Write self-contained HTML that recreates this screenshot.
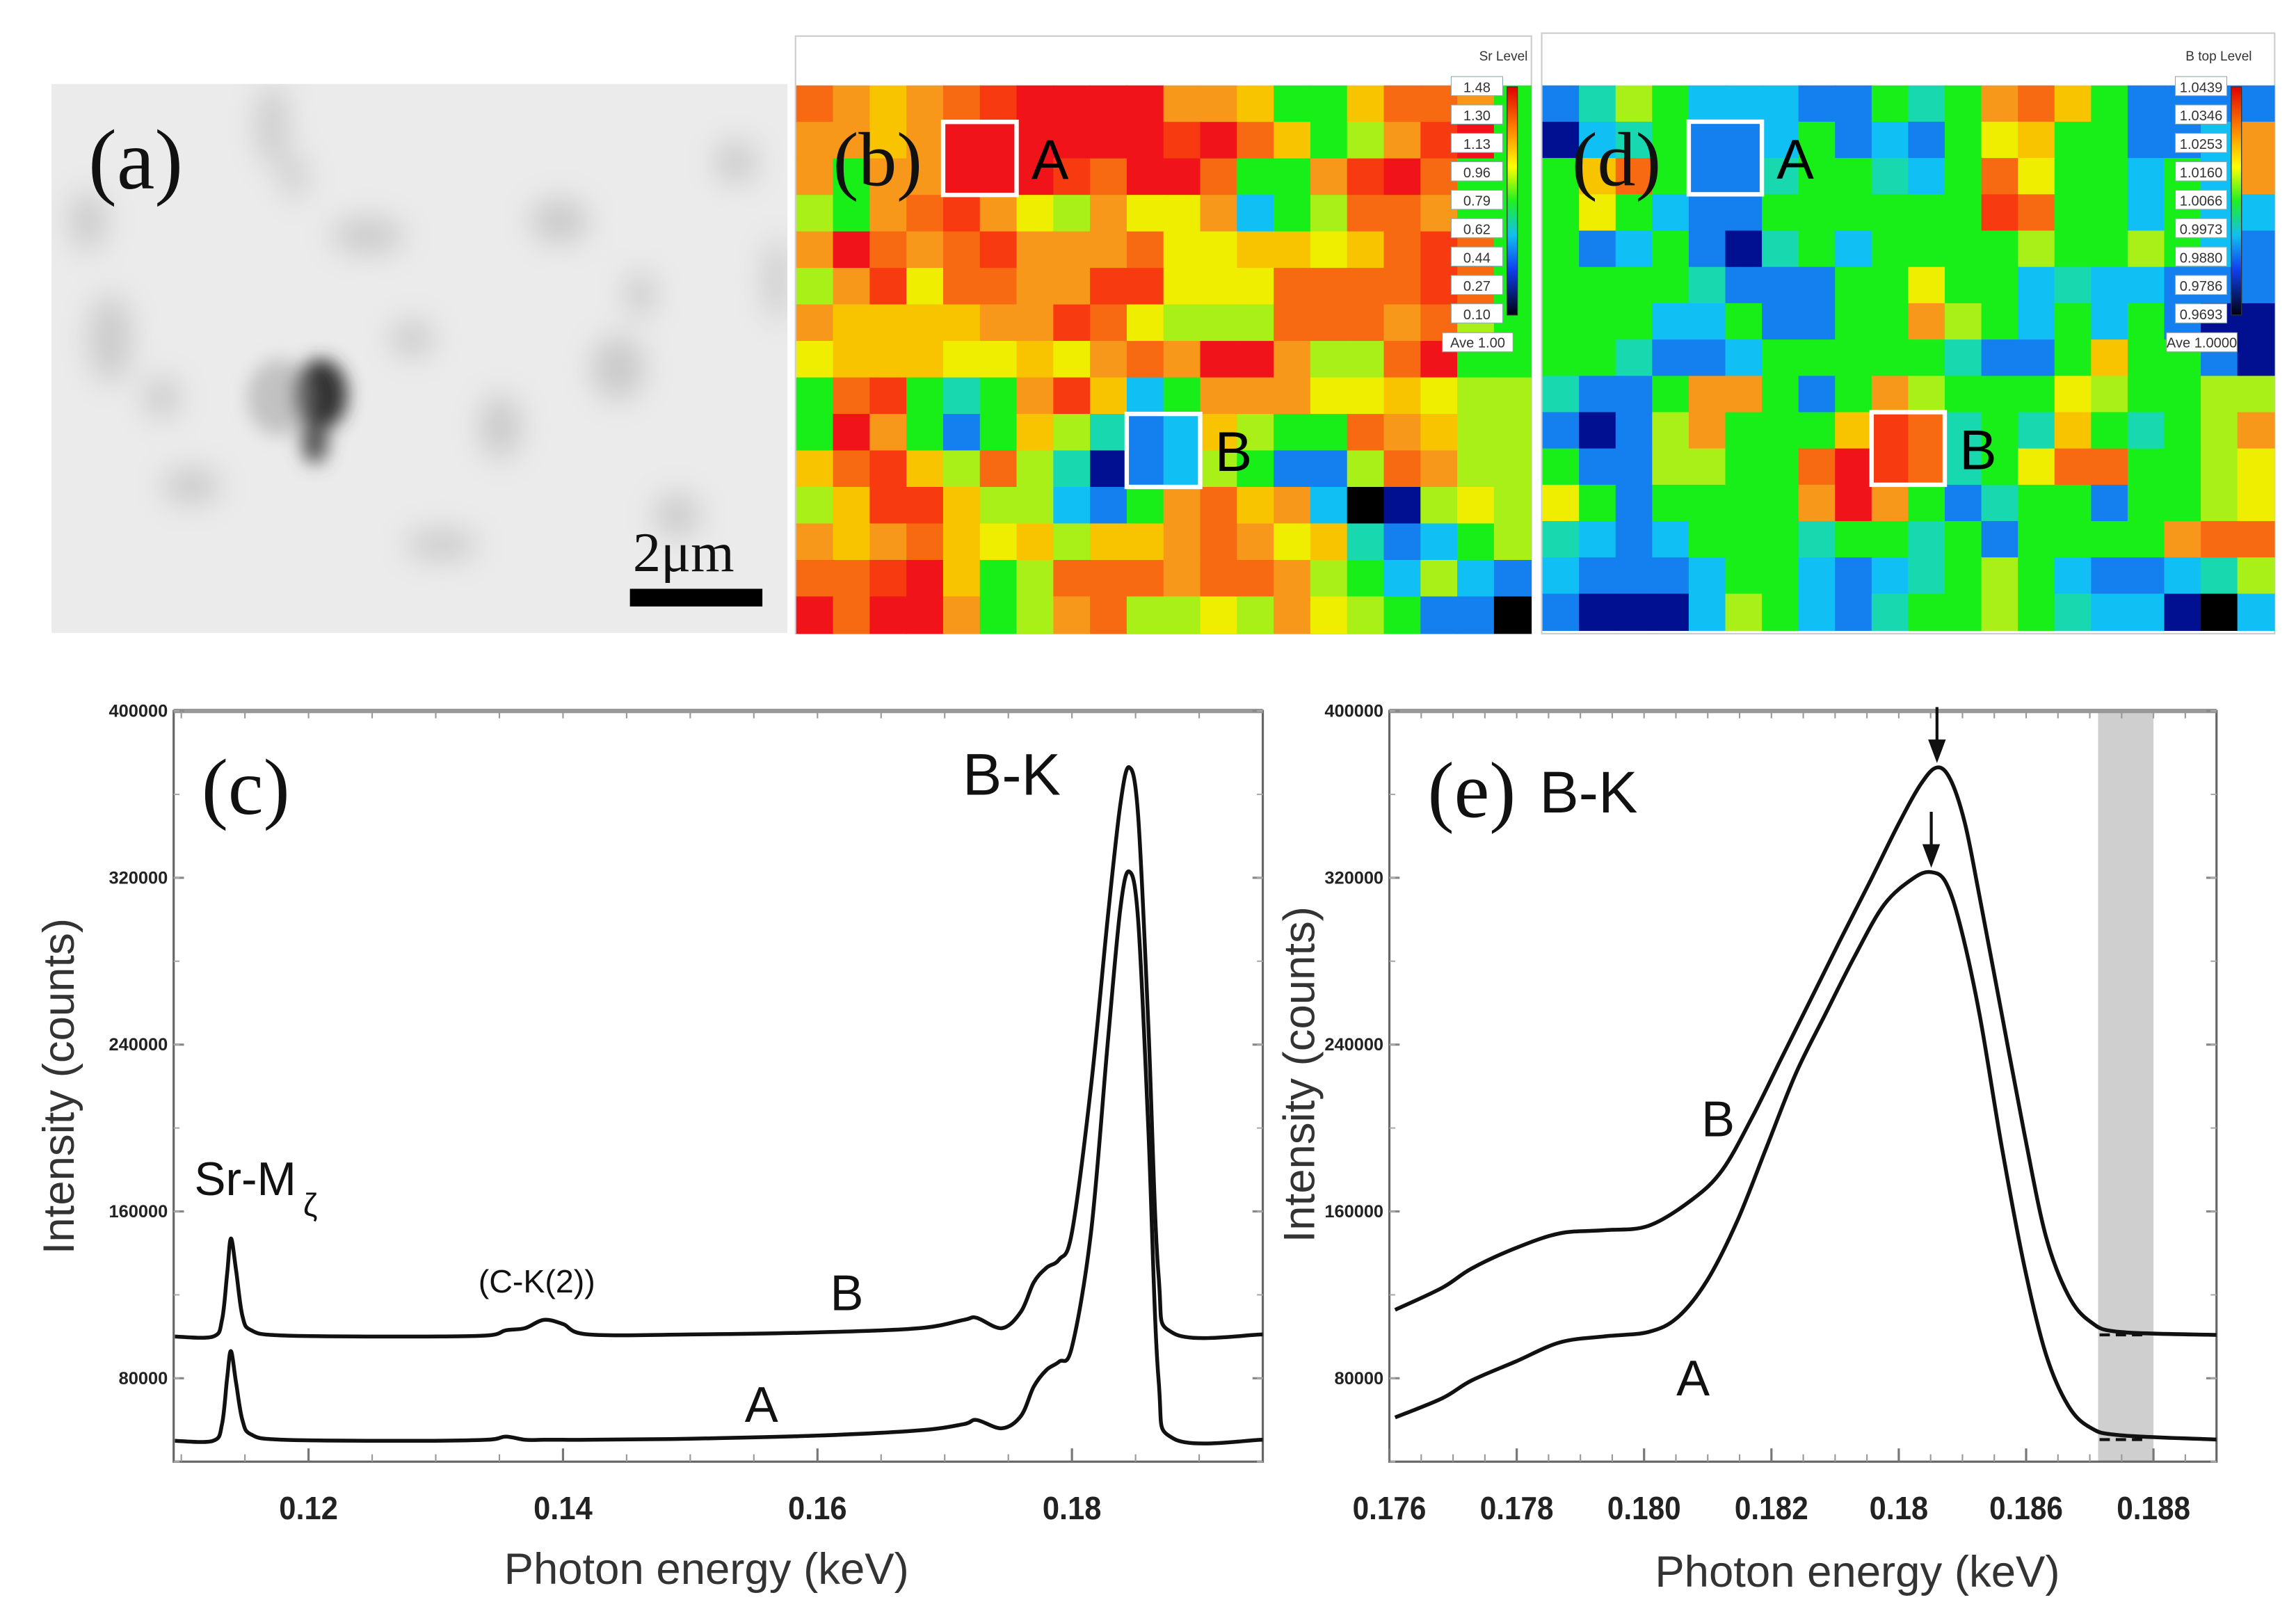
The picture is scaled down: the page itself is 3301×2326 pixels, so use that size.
<!DOCTYPE html>
<html><head><meta charset="utf-8">
<style>
html,body{margin:0;padding:0;background:#fff;}
svg{display:block;}
text{font-family:"Liberation Sans",sans-serif;}
.serif{font-family:"Liberation Serif",serif;}
</style></head>
<body>
<svg id="fig" width="3301" height="2326" viewBox="0 0 1560 1099.2" xmlns="http://www.w3.org/2000/svg">
<defs>
<filter id="blur6" x="-50%" y="-50%" width="200%" height="200%"><feGaussianBlur stdDeviation="6"/></filter>
<filter id="blur12" x="-50%" y="-50%" width="200%" height="200%"><feGaussianBlur stdDeviation="10"/></filter>
<linearGradient id="cbar" x1="0" y1="0" x2="0" y2="1">
<stop offset="0" stop-color="#e00000"/><stop offset="0.2" stop-color="#ff9000"/><stop offset="0.35" stop-color="#ffff00"/><stop offset="0.5" stop-color="#20f020"/><stop offset="0.65" stop-color="#10c0f0"/><stop offset="0.8" stop-color="#1040f0"/><stop offset="1" stop-color="#000010"/></linearGradient>
<clipPath id="clipA"><rect x="35" y="57" width="500" height="373"/></clipPath>
<clipPath id="clipE"><rect x="944" y="483" width="562" height="510"/></clipPath>
</defs>

<!-- Panel (a) -->
<g clip-path="url(#clipA)">
<rect x="35" y="57" width="500" height="373" fill="#ebebeb"/>
<g filter="url(#blur12)" fill="#a0a0a0" opacity="0.45">
<ellipse cx="185" cy="85" rx="10" ry="28"/><ellipse cx="200" cy="120" rx="8" ry="15"/>
<ellipse cx="75" cy="230" rx="14" ry="30"/><ellipse cx="60" cy="150" rx="12" ry="20"/>
<ellipse cx="420" cy="250" rx="18" ry="22"/><ellipse cx="435" cy="200" rx="10" ry="15"/>
<ellipse cx="340" cy="290" rx="14" ry="22"/><ellipse cx="250" cy="160" rx="25" ry="12"/>
<ellipse cx="500" cy="110" rx="14" ry="14"/><ellipse cx="528" cy="190" rx="8" ry="28"/>
<ellipse cx="130" cy="330" rx="20" ry="12"/><ellipse cx="300" cy="370" rx="25" ry="10"/>
<ellipse cx="460" cy="350" rx="15" ry="15"/><ellipse cx="380" cy="150" rx="20" ry="15"/>
<ellipse cx="110" cy="270" rx="12" ry="14"/><ellipse cx="280" cy="230" rx="15" ry="12"/>
</g>
<g filter="url(#blur6)">
<ellipse cx="218" cy="268" rx="18" ry="24" fill="#333"/>
<ellipse cx="214" cy="300" rx="9" ry="15" fill="#555"/>
<ellipse cx="190" cy="270" rx="22" ry="26" fill="#999" opacity="0.5"/>
</g>
</g>
<text class="serif" x="60" y="128" font-size="58" fill="#111">(a)</text>
<text class="serif" x="430" y="388" font-size="38" fill="#111">2μm</text>
<rect x="428" y="400" width="90" height="12" fill="#000"/>

<rect x="540.5" y="24.5" width="500" height="406" fill="#fff" stroke="#ccc"/>
<g id="mapB"></g>
<rect x="1047.5" y="22.5" width="498" height="408" fill="#fff" stroke="#ccc"/>
<g id="mapD"></g>

<g id="chartC"></g>
<g id="chartE"></g>
</svg>

<script>
// ---------- heatmap data ----------
const mapBRows = [
"OoYoOrRRRRooYGGYOOoG",
"ooYoRRRRRRrROYGlorRG",
"oGooRRRrORROGGorROGG",
"lGoOroyloyyoCGlOOoGG",
"oROoOroooOyyYYyYOrOG",
"loryOOoorryyyOOOOrOG",
"oYYYYoorOylllOOOoOlG",
"yYYYyyYyoOoRRollORGG",
"GOrGtGorYCGoooyyYyll",
"GRoGBGYltBCYlGGOoYll",
"YOrYlOltNBClGBBlOoll",
"lYrrYllCBGoOYoCKNlyl",
"oYoOYyYlYYoOoyYtBCGl",
"OOrRYGlOOOoOOolGClCB",
"RORRoGloOllyloylGBBK"];
const mapDRows = [
"BtlGCCCBBGtGoOYGBBBB",
"NCtGBBCGBCBGyYGGBBCo",
"GYOGBBtGGtCGOyGGCGCo",
"GyGCBBGGGGGGrOGGCGCC",
"GBCGBNtGCGGGGlGGlGCB",
"GGGGtBBBGGyGGCtCCBBB",
"GGGCCGBBGGolGCGCGBNN",
"GGtBBCGGGGGtBBGYGGBN",
"tBBGooGBGolGGGylGGll",
"BNBloGGGYrOtGtYGtGlo",
"GBBllGGORrOtGyOOGGly",
"yGBGGGGoRoGBtGGBGGly",
"tCBCGGGtGGtGBGGGGoOO",
"CBBBCGGCBCtGlGCBBCtl",
"BNNNClGCBtGGlGtCCNKC"];
const colorKey = {R:"#f0141a",r:"#f83a10",O:"#f86a12",o:"#f8981a",Y:"#f8c400",y:"#f0ee00",l:"#a8f018",G:"#18ee18",t:"#18d8b0",C:"#10c0f4",B:"#1480f0",N:"#001090",K:"#000000"};
const sbLabels = ["1.48","1.30","1.13","0.96","0.79","0.62","0.44","0.27","0.10"];
const dbLabels = ["1.0439","1.0346","1.0253","1.0160","1.0066","0.9973","0.9880","0.9786","0.9693"];

// ---------- spectrum (c) data ----------
const cEnergy = [0.1095,0.1125,0.1132,0.1136,0.1139,0.1143,0.1148,0.1155,0.118,0.128,0.134,0.1355,0.137,0.1385,0.140,0.142,0.150,0.160,0.168,0.1715,0.1725,0.1745,0.176,0.177,0.178,0.179,0.1800,0.1815,0.1828,0.1838,0.1845,0.1852,0.1860,0.1868,0.1880,0.195];
const cSeriesB = [100000,100000,108000,130000,147000,132000,110000,103000,100500,100000,100500,103000,104000,108000,106000,101000,101000,102000,104000,108000,109000,104000,112000,126000,133000,137000,150000,220000,300000,355000,373000,350000,250000,130000,101500,101000];
const cSeriesA = [50000,50000,58000,80000,93000,78000,60000,53000,50500,50000,50500,52000,50500,50500,50500,50500,51000,52500,55000,58000,60000,56000,62000,76000,84000,88000,95000,150000,240000,305000,323000,300000,200000,80000,51000,50500];
const cXTicks = [0.12,0.14,0.16,0.18];
const yTicks = [80000,160000,240000,320000,400000];

// ---------- spectrum (e) data ----------
const eEnergyB = [0.17609,0.17683,0.17729,0.17799,0.17868,0.17938,0.18007,0.18076,0.18123,0.18169,0.18215,0.18261,0.18307,0.18354,0.184,0.18435,0.1846,0.18481,0.18504,0.18527,0.18562,0.18597,0.18631,0.18666,0.18701,0.18747,0.18899];
const eSeriesB = [112800,123400,132600,142500,149500,151000,153100,165800,179900,204700,233000,261200,289500,317700,346000,365100,372900,367200,346000,310700,254200,197700,148100,119900,107100,102200,100800];
const eEnergyA = [0.17609,0.17683,0.17729,0.17799,0.17868,0.17938,0.18007,0.18053,0.18099,0.18146,0.18192,0.18238,0.18284,0.18331,0.18377,0.18423,0.18451,0.18474,0.18497,0.18527,0.18562,0.18597,0.18631,0.18666,0.18701,0.18747,0.18899];
const eSeriesA = [61200,70400,78900,88100,97200,100100,102200,109300,126900,155200,190500,225900,254200,282500,307100,319800,322700,317700,296500,254200,190500,134000,91600,66900,56300,52700,50600];
const eXTicks = [0.176,0.178,0.180,0.182,0.184,0.186,0.188];
const eXLabels = ["0.176","0.178","0.180","0.182","0.18","0.186","0.188"];
const ePeaks = [0.1846,0.18451];
const eBand = [0.18713,0.18800];

const NS = "http://www.w3.org/2000/svg";
function mk(tag, attrs, parent, txt){
  const e = document.createElementNS(NS, tag);
  for (const k in attrs) e.setAttribute(k, attrs[k]);
  if (txt !== undefined) e.textContent = txt;
  parent.appendChild(e); return e;
}

function drawMap(g, rows, x0, y0, w, h, boxA, boxB, labels, title, cbx){
  const nr = rows.length, nc = rows[0].length, cw = w/nc, ch = h/nr;
  rows.forEach((row, r) => {
    [...row].forEach((c, k) => {
      const rc = mk('rect', {x:x0+k*cw, y:y0+r*ch, width:cw+0.6, height:ch+0.6, fill:colorKey[c]}, g);
      
      
    });
  });
  [[boxA,'A'],[boxB,'B']].forEach(([b, lab]) => {
    const bx = mk('rect', {x:x0+b[0]*cw, y:y0+b[1]*ch, width:2*cw, height:2*ch, fill:'none', stroke:'#fff', 'stroke-width':3}, g);
    
    
    const t = mk('text', {x:x0+(b[0]+2)*cw+10, y:y0+(b[1]+1)*ch+14, 'font-size':38, fill:'#000'}, g, lab);
    
    
  });
  const cb = mk('g', {}, g);
  
  
  mk('text', {x:cbx+52, y:41, 'font-size':9, 'text-anchor':'end', fill:'#333'}, cb, title);
  mk('rect', {x:cbx+38, y:59, width:7, height:155, fill:'url(#cbar)', stroke:'#333', 'stroke-width':0.6}, cb);
  labels.forEach((l, i) => {
    const yy = 59 + i*19.3;
    mk('rect', {x:cbx, y:yy-7, width:35, height:13, fill:'#fff', stroke:'#8aa', 'stroke-width':0.5}, cb);
    mk('text', {x:cbx+17.5, y:yy+3.5, 'font-size':9.5, 'text-anchor':'middle', fill:'#333'}, cb, l);
  });
  mk('rect', {x:cbx-6, y:226, width:48, height:13, fill:'#fff', stroke:'#999', 'stroke-width':0.5}, cb);
  mk('text', {x:cbx+18, y:236, 'font-size':9.5, 'text-anchor':'middle', fill:'#333'}, cb, labels.length && labels[0].length > 4 ? 'Ave 1.0000' : 'Ave 1.00');
}

drawMap(document.getElementById('mapB'), mapBRows, 541, 58, 499, 372, [4,1], [9,9], sbLabels, 'Sr  Level', 986);
drawMap(document.getElementById('mapD'), mapDRows, 1048, 58, 497, 370, [4,1], [9,9], dbLabels, 'B top  Level', 1478);
const lb = mk('text', {x:566, y:126, 'font-size':52, fill:'#111', class:'serif'}, document.getElementById('mapB'), '(b)');


const ld = mk('text', {x:1068, y:126, 'font-size':52, fill:'#111', class:'serif'}, document.getElementById('mapD'), '(d)');



function smoothPath(pts){
  let d = `M${pts[0][0].toFixed(2)},${pts[0][1].toFixed(2)}`;
  for (let i = 0; i < pts.length-1; i++){
    const p0 = pts[Math.max(0,i-1)], p1 = pts[i], p2 = pts[i+1], p3 = pts[Math.min(pts.length-1,i+2)];
    const c1 = [p1[0]+(p2[0]-p0[0])/6, p1[1]+(p2[1]-p0[1])/6];
    const c2 = [p2[0]-(p3[0]-p1[0])/6, p2[1]-(p3[1]-p1[1])/6];
    d += ` C${c1[0].toFixed(2)},${c1[1].toFixed(2)} ${c2[0].toFixed(2)},${c2[1].toFixed(2)} ${p2[0].toFixed(2)},${p2[1].toFixed(2)}`;
  }
  return d;
}

function axes(g, L, T, R, B, xs, ys, xt, xl, minorX){
  const f = mk('rect', {x:L, y:T, width:R-L, height:B-T, fill:'none', stroke:'#666', 'stroke-width':1.5}, g);
  
  
  mk('line', {x1:L, y1:T, x2:R, y2:T, stroke:'#999', 'stroke-width':3}, g);
  yTicks.forEach(v => {
    const y = ys(v);
    mk('line', {x1:L, y1:y, x2:L+7, y2:y, stroke:'#888', 'stroke-width':1.5}, g);
    mk('line', {x1:R, y1:y, x2:R-7, y2:y, stroke:'#888', 'stroke-width':1.5}, g);
    const t = mk('text', {x:L-4, y:y+4, 'font-size':12, 'font-weight':'bold', 'text-anchor':'end', fill:'#222'}, g, String(v));
    
    
  });
  for (let v = 40000; v <= 400000; v += 40000){
    const y = ys(v);
    mk('line', {x1:L, y1:y, x2:L+4, y2:y, stroke:'#aaa'}, g);
    mk('line', {x1:R, y1:y, x2:R-4, y2:y, stroke:'#aaa'}, g);
  }
  minorX.forEach(v => {
    const x = xs(v);
    mk('line', {x1:x, y1:B, x2:x, y2:B-5, stroke:'#999'}, g);
    mk('line', {x1:x, y1:T, x2:x, y2:T+5, stroke:'#999'}, g);
  });
  xt.forEach((v, i) => {
    const x = xs(v);
    mk('line', {x1:x, y1:B, x2:x, y2:B-9, stroke:'#777', 'stroke-width':1.5}, g);
    const t = mk('text', {x:x, y:B+39, 'font-size':22, 'font-weight':'bold', 'text-anchor':'middle', fill:'#222', 'textLength':xl[i].length*10, 'lengthAdjust':'spacingAndGlyphs'}, g, xl[i]);
    
    
  });
}

function txt(g, x, y, s, size, name, extra){
  const a = Object.assign({x:x, y:y, 'font-size':size, fill:'#111'}, extra||{});
  const t = mk('text', a, g, s);
  
  
  return t;
}

// ---- Chart c ----
(function(){
  const g = document.getElementById('chartC');
  const L=118, R=858, T=483, B=993, x0=0.1094, x1=0.195, y0=40000, y1=400000;
  const xs = v => L + (v-x0)/(x1-x0)*(R-L);
  const ys = v => B - (v-y0)/(y1-y0)*(B-T);
  const minor = []; for (let v=0.11; v<=0.195; v+=0.005) minor.push(v);
  axes(g, L, T, R, B, xs, ys, cXTicks, cXTicks.map(v=>v.toFixed(2)), minor);
  [[cSeriesB,'series-b'],[cSeriesA,'series-a']].forEach(([s,n]) => {
    const p = mk('path', {d:smoothPath(cEnergy.map((e,i)=>[xs(e), ys(s[i])])), fill:'none', stroke:'#111', 'stroke-width':2.6}, g);
    
    
  });
  txt(g, 137, 553, '(c)', 54, 'panel-c-label', {class:'serif'});
  txt(g, 654, 540, 'B-K', 40, 'b-k-peak-label');
  txt(g, 132, 812, 'Sr-M', 32, 'sr-m-label');
  txt(g, 206, 826, 'ζ', 22, 'sr-m-subscript');
  txt(g, 325, 878, '(C-K(2))', 22, 'c-k-label');
  txt(g, 564, 890, 'B', 34, 'curve-b-label');
  txt(g, 506, 966, 'A', 34, 'curve-a-label');
  txt(g, 50, 738, 'Intensity (counts)', 30, 'y-axis-title', {transform:'rotate(-90 50 738)', 'text-anchor':'middle', fill:'#333'});
  txt(g, 480, 1076, 'Photon energy (keV)', 30, 'x-axis-title', {'text-anchor':'middle', fill:'#333'});
})();

// ---- Chart e ----
(function(){
  const g = document.getElementById('chartE');
  const L=944, R=1506, T=483, B=993, x0=0.176, x1=0.18899, y0=40000, y1=400000;
  const xs = v => L + (v-x0)/(x1-x0)*(R-L);
  const ys = v => B - (v-y0)/(y1-y0)*(B-T);
  const band = mk('rect', {x:xs(eBand[0]), y:T, width:xs(eBand[1])-xs(eBand[0]), height:B-T, fill:'#cfcfcf'}, g);
  
  
  const minor = []; for (let v=0.1765; v<=0.1889; v+=0.0005) minor.push(v);
  axes(g, L, T, R, B, xs, ys, eXTicks, eXLabels, minor);
  const cg = mk('g', {'clip-path':'url(#clipE)'}, g);
  [[eEnergyB,eSeriesB,'series-b'],[eEnergyA,eSeriesA,'series-a']].forEach(([ex,s,n]) => {
    const p = mk('path', {d:smoothPath(ex.map((e,i)=>[xs(e), ys(s[i])])), fill:'none', stroke:'#111', 'stroke-width':2.6}, cg);
    
    
  });
  [eSeriesB[eSeriesB.length-1], eSeriesA[eSeriesA.length-1]].forEach(v => {
    const d = mk('line', {x1:xs(eBand[0])+1, y1:ys(v), x2:xs(eBand[1])-4, y2:ys(v), stroke:'#111', 'stroke-width':2, 'stroke-dasharray':'7 4'}, g);
    
    
  });
  [[ePeaks[0], Math.max(...eSeriesB)],[ePeaks[1], Math.max(...eSeriesA)]].forEach(([e,v]) => {
    const x = xs(e), y = ys(v) - 3;
    const a = mk('g', {}, g);
    
    
    mk('line', {x1:x, y1:y-38, x2:x, y2:y-10, stroke:'#111', 'stroke-width':2}, a);
    mk('polygon', {points:`${x-6},${y-16} ${x+6},${y-16} ${x},${y}`, fill:'#111'}, a);
  });
  txt(g, 970, 555, '(e)', 54, 'panel-e-label', {class:'serif'});
  txt(g, 1046, 552, 'B-K', 40, 'b-k-label-e');
  txt(g, 1156, 772, 'B', 34, 'curve-b-label-e');
  txt(g, 1139, 948, 'A', 34, 'curve-a-label-e');
  txt(g, 893, 730, 'Intensity (counts)', 30, 'y-axis-title-e', {transform:'rotate(-90 893 730)', 'text-anchor':'middle', fill:'#333'});
  txt(g, 1262, 1078, 'Photon energy (keV)', 30, 'x-axis-title-e', {'text-anchor':'middle', fill:'#333'});
})();
</script>
</body></html>
